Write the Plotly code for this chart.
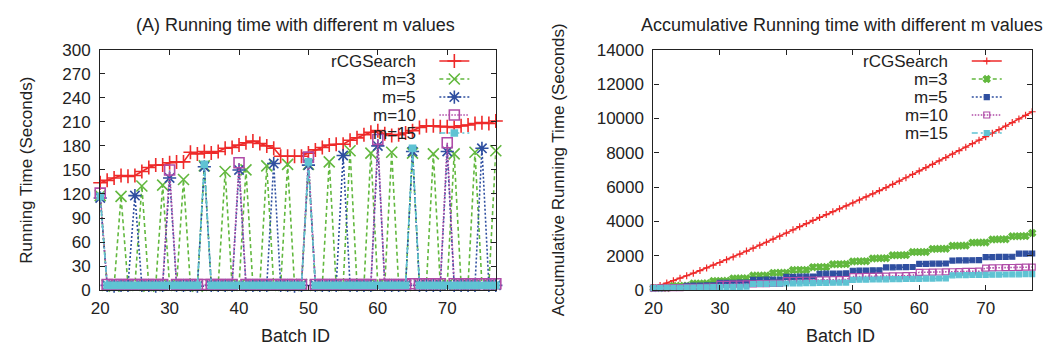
import numpy as np
import plotly.graph_objects as go

# ---------------- data ----------------
batch_ids = list(range(20, 78))

rcgsearch = [134, 137, 140, 143, 142, 143, 148, 153, 156, 156,
             159, 160, 160, 172, 170, 173, 171, 173, 177, 178,
             181, 184, 186, 183, 180, 177, 167, 167, 167, 167,
             171, 175, 178, 181, 182, 182, 187, 190, 194, 197,
             199, 195, 193, 194, 196, 199, 203, 205, 205, 204,
             204, 203, 205, 206, 208, 209, 208, 211]

m3 = [118, 6, 5, 117, 6, 6, 130, 5, 6, 131,
      6, 6, 138, 6, 5, 155, 6, 6, 148, 6,
      6, 150, 6, 6, 155, 6, 6, 157, 6, 7,
      157, 6, 6, 160, 6, 6, 174, 6, 6, 171,
      6, 7, 172, 6, 6, 171, 7, 7, 170, 7,
      7, 170, 7, 7, 172, 7, 7, 174]

m5 = [115, 6, 5, 6, 6, 118, 6, 6, 5, 6,
      140, 6, 6, 6, 5, 154, 6, 6, 6, 6,
      150, 6, 6, 6, 6, 158, 6, 6, 5, 6,
      156, 6, 6, 6, 6, 168, 6, 6, 6, 6,
      180, 6, 6, 6, 6, 173, 6, 6, 6, 6,
      173, 6, 6, 6, 6, 177, 6, 6]

m10 = [121, 7, 7, 7, 7, 7, 7, 7, 7, 7,
       150, 7, 7, 7, 7, 7, 7, 7, 7, 7,
       159, 7, 7, 7, 7, 7, 7, 7, 7, 7,
       166, 7, 7, 7, 7, 7, 7, 7, 7, 7,
       188, 7, 7, 7, 7, 8, 8, 8, 8, 8,
       184, 8, 8, 8, 8, 8, 8, 8]

m15 = [117, 6, 6, 6, 6, 6, 6, 6, 6, 6,
       6, 6, 6, 6, 6, 157, 6, 6, 6, 6,
       6, 6, 6, 6, 6, 6, 6, 6, 6, 6,
       160, 6, 6, 6, 6, 6, 6, 6, 6, 6,
       6, 6, 6, 6, 6, 177, 6, 6, 6, 6,
       6, 6, 6, 6, 6, 6, 6, 6]

series_names = ["rCGSearch", "m=3", "m=5", "m=10", "m=15"]
series_values = [rcgsearch, m3, m5, m10, m15]

left_yticks = list(range(0, 301, 30))
right_yticks = list(range(0, 14001, 2000))
xticks = [20, 30, 40, 50, 60, 70]

# ---------------- styles ----------------
colors = ["#ee2a2a", "#62b83e", "#2f4fa0", "#b04ca8", "#5fc3d3"]
dashes = ["solid", "4px,3px", "2px,2px", "1.5px,1.5px", "6px,3px,2px,3px"]
left_symbols = ["cross-thin-open", "x-thin-open", "asterisk-open", "square-open", "square"]
left_sizes = [10, 11, 11, 10, 6]
right_symbols = ["cross-thin-open", "x", "square", "square-open", "square"]
right_sizes = [5, 6, 5, 6, 5]

W, H = 1055, 356
FONT = "Liberation Sans, Arial, Helvetica, sans-serif"
TXT = "#222222"

# legend layout (gnuplot style: text right-aligned, sample to the right)
legend_row_px = [55, 74, 93, 112, 131]
left_key_text_px, left_key_sample_px = 413, 449
right_key_text_px, right_key_sample_px = 949, 986


def px_x(p):
    return p / W


def px_y(p):
    return 1 - p / H


fig = go.Figure()
legend_layouts = {}
annotations = []

for panel, (symbols, sizes, xa, ya, text_px, sample_px, cum) in enumerate([
        (left_symbols, left_sizes, "x", "y", left_key_text_px, left_key_sample_px, False),
        (right_symbols, right_sizes, "x2", "y2", right_key_text_px, right_key_sample_px, True)]):
    for i, (name, vals, c, d, s, sz) in enumerate(zip(series_names, series_values, colors,
                                                       dashes, symbols, sizes)):
        k = panel * 5 + i + 1
        lg = "legend" if k == 1 else f"legend{k}"
        yv = np.cumsum(vals) if cum else vals
        fig.add_trace(go.Scatter(
            x=batch_ids, y=yv, name="", mode="lines+markers",
            line=dict(color=c, width=1.6, dash=d),
            marker=dict(symbol=s, size=sz, color=c,
                        line=dict(color=c, width=1.6 if not cum else 1.2)),
            cliponaxis=False, xaxis=xa, yaxis=ya, legend=lg, showlegend=True,
        ))
        legend_layouts[lg] = dict(
            x=px_x(sample_px - 20), y=px_y(legend_row_px[i]),
            xanchor="left", yanchor="middle", bgcolor="rgba(0,0,0,0)",
            borderwidth=0, font=dict(family=FONT, size=12, color=TXT),
            itemwidth=30,
        )
        annotations.append(dict(text=name, x=px_x(text_px), y=px_y(legend_row_px[i]),
                                xanchor="right", yanchor="middle",
                                font=dict(size=17)))

axis_common = dict(
    showline=True, linecolor="#222222", linewidth=1.2, mirror="ticks",
    ticks="inside", ticklen=5, tickwidth=1, tickcolor="#222222",
    showgrid=False, zeroline=False,
    tickfont=dict(family=FONT, size=17, color=TXT),
)

fig.update_layout(
    width=W, height=H,
    margin=dict(l=0, r=0, t=0, b=0),
    paper_bgcolor="white", plot_bgcolor="white",
    font=dict(family=FONT, color=TXT),
    xaxis=dict(domain=[px_x(92), px_x(491)], range=[20, 77], tickvals=xticks,
               anchor="y", ticklabelstandoff=2, **axis_common),
    yaxis=dict(domain=[px_y(297), px_y(43)], range=[0, 300], tickvals=left_yticks,
               anchor="x", ticklabelstandoff=5, **axis_common),
    xaxis2=dict(domain=[px_x(650), px_x(1032)], range=[20, 77], tickvals=xticks,
                anchor="y2", ticklabelstandoff=2, **axis_common),
    yaxis2=dict(domain=[px_y(297), px_y(43)], range=[0, 14000], tickvals=right_yticks,
                tickformat="d", anchor="x2", ticklabelstandoff=5, **axis_common),
    showlegend=True,
    **legend_layouts,
)

annotations += [
    dict(text="(A) Running time with different m values", x=px_x(289), y=px_y(17),
         font=dict(size=18)),
    dict(text="Accumulative Running time with different m values", x=px_x(840), y=px_y(17),
         font=dict(size=18)),
    dict(text="Batch ID", x=px_x(289), y=px_y(345), font=dict(size=18)),
    dict(text="Batch ID", x=px_x(839), y=px_y(345), font=dict(size=18)),
    dict(text="Running Time (Seconds)", x=px_x(18), y=px_y(170), textangle=-90,
         font=dict(size=17)),
    dict(text="Accumulative Running Time (Seconds)", x=px_x(555), y=px_y(170),
         textangle=-90, font=dict(size=17)),
]
for a in annotations:
    a.setdefault("xanchor", "center")
    a.setdefault("yanchor", "middle")
    a.update(xref="paper", yref="paper", showarrow=False)
    a["font"].update(family=FONT, color=TXT)
fig.update_layout(annotations=annotations)

fig.write_html(
    "out.html",
    config={"displayModeBar": False},
    post_script="document.body.style.margin='0';document.body.style.overflow='hidden';",
)
